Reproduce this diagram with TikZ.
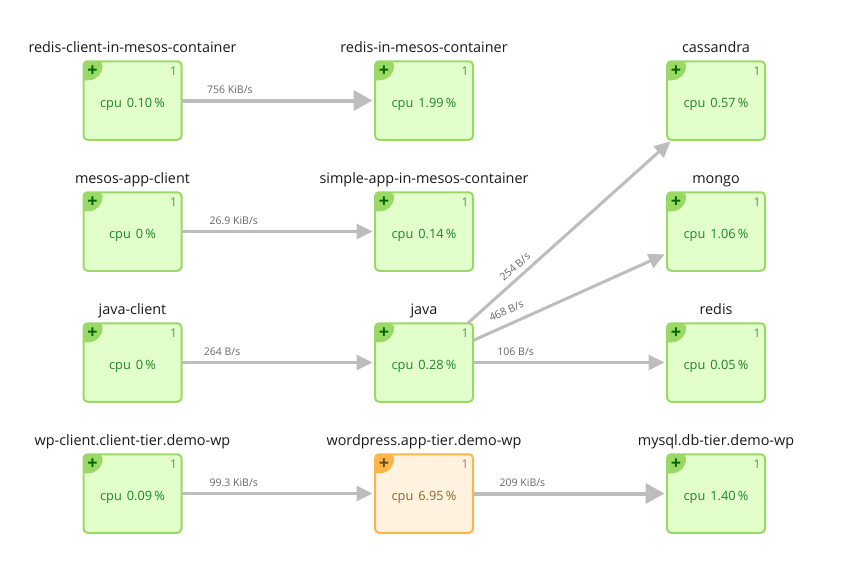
\documentclass[tikz,border=0pt]{standalone}
\usepackage{fontspec}
\setmainfont{Open Sans}
\usetikzlibrary{arrows.meta}
\definecolor{okfill}{HTML}{E2FFCB}
\definecolor{okline}{HTML}{9BD967}
\definecolor{oktext}{HTML}{1F842B}
\definecolor{warnfill}{HTML}{FFF2DF}
\definecolor{warnline}{HTML}{FBB64A}
\definecolor{warntext}{HTML}{8A6632}
\definecolor{flowgray}{HTML}{BDBDBD}
\definecolor{ratetext}{HTML}{666666}
\tikzset{
	okstate/.style={boxfill/.style={fill=okfill, draw=okline}, cornerfill/.style={fill=okline}, statetext/.style={text=oktext}, plustext/.style={text=green!40!black}},
	warnstate/.style={boxfill/.style={fill=warnfill, draw=warnline}, cornerfill/.style={fill=warnline}, statetext/.style={text=warntext}, plustext/.style={text=warntext!70!black}},
	servicebox/.style={boxfill, line width=2pt, rounded corners=4pt, minimum width=98pt, minimum height=78.5pt, outer sep=0pt},
	flow/.style={draw=flowgray, line width=3pt, -{Triangle[length=16pt,width=15pt]}, shorten >=2.5pt},
	bigflow/.style={flow, line width=4pt, -{Triangle[length=19pt,width=20pt]}},
	rate/.style={font=\fontsize{10.5}{12}\selectfont, text=ratetext, inner sep=0pt},
}
\begin{document}
\begin{tikzpicture}[x=1pt, y=-1pt]
	\useasboundingbox (0,0) rectangle (842,586);
	
	\foreach \id/\x/\y/\state/\title/\load in {
		rcmc/132.5/100.5/okstate/redis-client-in-mesos-container/0.10,
		rmc/424/100.5/okstate/redis-in-mesos-container/1.99,
		cassandra/716/100.5/okstate/cassandra/0.57,
		mac/132.5/231.5/okstate/mesos-app-client/0,
		samc/424/231.5/okstate/simple-app-in-mesos-container/0.14,
		mongo/716/231.5/okstate/mongo/1.06,
		jc/132.5/362.5/okstate/java-client/0,
		java/424/362.5/okstate/java/0.28,
		redis/716/362.5/okstate/redis/0.05,
		wpc/132.5/493.5/okstate/wp-client.client-tier.demo-wp/0.09,
		wp/424/493.5/warnstate/wordpress.app-tier.demo-wp/6.95,
		mysql/716/493.5/okstate/mysql.db-tier.demo-wp/1.40}
	{
		\begin{scope}[\state]
			\node[servicebox] (\id) at (\x,\y) {};
			\fill[cornerfill] (\id.north west) ++(19,0) [rounded corners=14pt] -- ++(0,19) [sharp corners] -- ++(-19,0) [rounded corners=4pt] -- (\id.north west) -- cycle;
			\node[font=\fontsize{18}{18}\selectfont\bfseries, plustext, inner sep=0pt] (\id-plus) at ([xshift=9pt,yshift=-9.5pt]\id.north west) {+};
			\node[font=\fontsize{12}{14}\selectfont, statetext, opacity=.8, inner sep=0pt] (\id-count) at ([xshift=-8pt,yshift=-9.5pt]\id.north east) {1};
			\node[font=\fontsize{12.8}{14}\selectfont, statetext, inner sep=0pt, text height=9pt, text depth=3pt] (\id-cpu) at ([yshift=-4pt]\id.center) {cpu\hspace{5pt}\load\,\%};
			\node[font=\fontsize{14.4}{16}\selectfont, text=black!90, inner sep=0pt, text height=10pt, text depth=3pt] (\id-title) at ([yshift=12pt]\id.north) {\title};
		\end{scope}
	}
	
	\draw[bigflow] (rcmc) -- node[rate, pos=.25, above=5pt] (r1) {756 KiB/s} (rmc);
	\draw[flow] (mac) -- node[rate, pos=.27, above=5pt] (r2) {26.9 KiB/s} (samc);
	\draw[flow] (jc) -- node[rate, pos=.21, above=5pt] (r3) {264 B/s} (java);
	\draw[flow] (wpc) -- node[rate, pos=.27, above=5pt] (r4) {99.3 KiB/s} (wp);
	\draw[bigflow] (wp) -- node[rate, pos=.255, above=5pt] (r5) {209 KiB/s} (mysql);
	\draw[flow] (java) -- node[rate, pos=.22, above=5pt] (r6) {106 B/s} (redis);
	\draw[flow] (java) -- node[rate, pos=.265, sloped, above=5pt] (r7) {254 B/s} (cassandra);
	\draw[flow] (java) -- node[rate, pos=.2, sloped, above=8pt] (r8) {468 B/s} (mongo);
	
\end{tikzpicture}
\end{document}
